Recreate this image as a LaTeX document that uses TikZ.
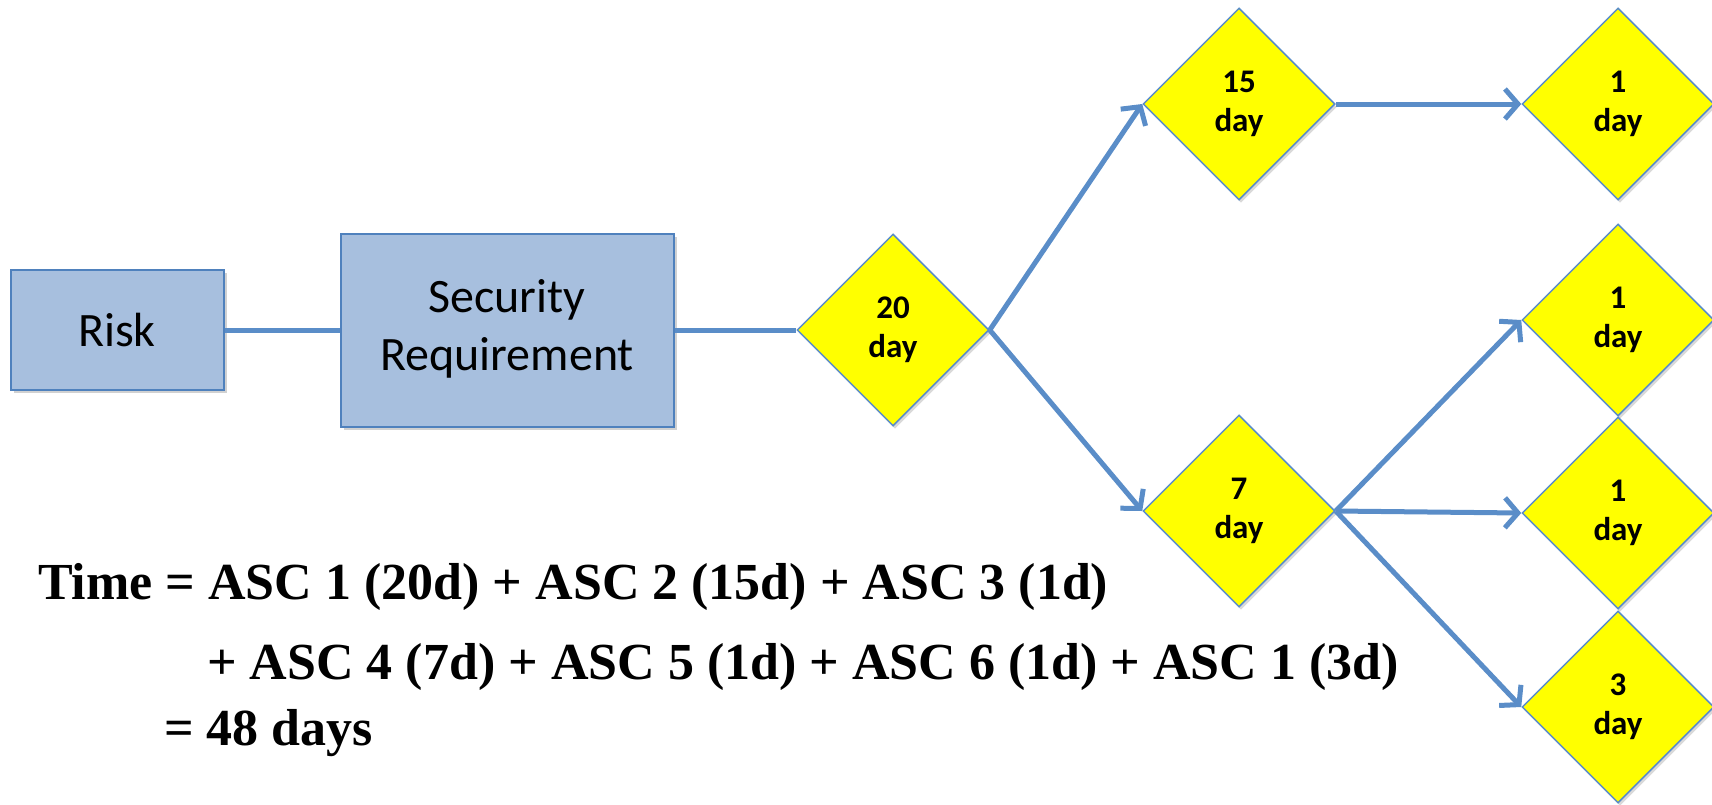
\documentclass[tikz,border=0pt]{standalone}
\usepackage{fontspec}
\setmainfont{Carlito}
\newfontfamily\formulafont{Liberation Serif}
\usetikzlibrary{shapes.geometric,arrows.meta,shadows}
\definecolor{boxfill}{HTML}{A7BFDE}
\definecolor{boxline}{HTML}{4F81BD}
\definecolor{linkblue}{HTML}{5A8DC8}
\definecolor{stepyellow}{HTML}{FFFF00}
% two centred lines, lowered a little inside their shape
\newcommand\lowtwo[3]{\raisebox{-#1}{\begin{tabular}{@{}c@{}}#2\\#3\end{tabular}}}
\begin{document}
\begin{tikzpicture}[x=1pt,y=-1pt,
  procbox/.style={draw=boxline, line width=2pt, fill=boxfill, inner sep=0pt,
    align=center, font=\fontsize{48}{58}\selectfont,
    drop shadow={shadow xshift=3pt, shadow yshift=-3pt, opacity=0.3, fill=black!60}},
  stepdiamond/.style={shape=diamond, draw=linkblue, line width=1.5pt, fill=stepyellow,
    minimum width=192pt, minimum height=192pt, inner sep=0pt, align=center,
    font=\bfseries\fontsize{33}{39}\selectfont,
    drop shadow={shadow xshift=2pt, shadow yshift=-3pt, opacity=0.25, fill=black!60}},
  link/.style={draw=linkblue, line width=5pt},
  flow/.style={link, -{Straight Barb[length=13pt,width=30pt]}},
  formula/.style={anchor=base west, inner sep=0pt,
    font=\formulafont\bfseries\fontsize{52}{60}\selectfont}]
\useasboundingbox (0,0) rectangle (1712,804);

% process boxes
\node[procbox, minimum width=213pt, minimum height=120pt] (risk) at (117,330) {\raisebox{-2pt}{Risk}};
\node[procbox, minimum width=333pt, minimum height=193pt] (secreq) at (507,330)
  {\lowtwo{4pt}{Security}{Requirement}};

% activity durations
\node[stepdiamond] (d20)  at (893,330)  {\lowtwo{4pt}{20}{day}};
\node[stepdiamond] (d15)  at (1239,104) {\lowtwo{4pt}{15}{day}};
\node[stepdiamond] (d1a)  at (1618,104) {\lowtwo{4pt}{1}{day}};
\node[stepdiamond] (d7)   at (1239,511) {\lowtwo{4pt}{7}{day}};
\node[stepdiamond] (d1b)  at (1618,320) {\lowtwo{4pt}{1}{day}};
\node[stepdiamond] (d1c)  at (1618,513) {\lowtwo{4pt}{1}{day}};
\node[stepdiamond] (d3)   at (1618,707) {\lowtwo{4pt}{3}{day}};

% connectors
\draw[link] (risk.east) -- (secreq.west);
\draw[link] (secreq.east) -- (d20.west);
\draw[flow] (d20.east) -- (d15.west);
\draw[flow] (d20.east) -- (d7.west);
\draw[flow] (d15.east) -- (d1a.west);
\draw[flow] (d7.east) -- (d1b.west);
\draw[flow] (d7.east) -- (d1c.west);
\draw[flow] (d7.east) -- (d3.west);

% total time
\node[formula] (sum1) at (38,599)  {Time = ASC 1 (20d) + ASC 2 (15d) + ASC 3 (1d)};
\node[formula] (sum2) at (207,679) {+ ASC 4 (7d) + ASC 5 (1d) + ASC 6 (1d) + ASC 1 (3d)};
\node[formula] (sum3) at (164,745) {= 48 days};
\end{tikzpicture}
\end{document}
